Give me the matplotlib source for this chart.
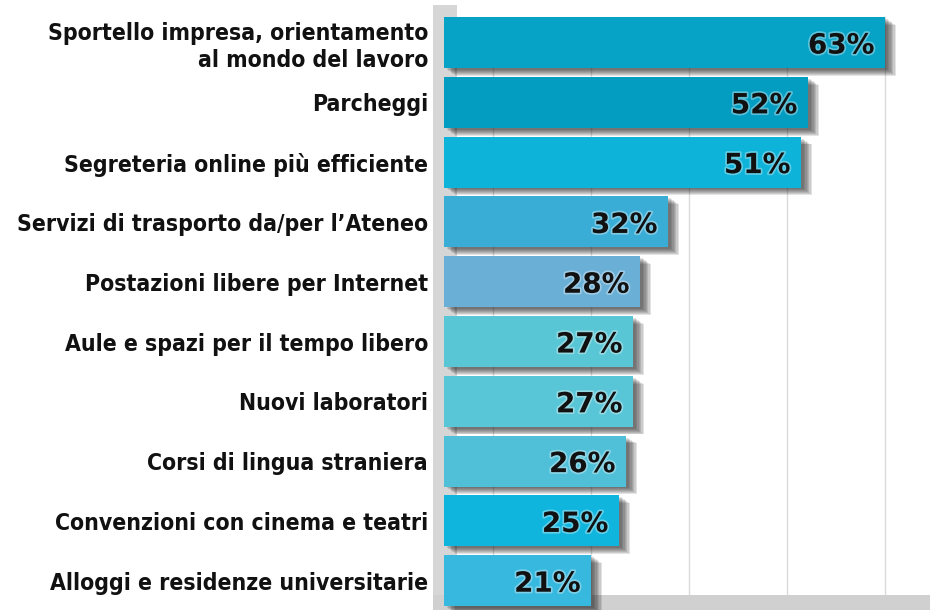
import matplotlib
matplotlib.use('Agg')
import matplotlib.pyplot as plt
import matplotlib.patheffects as pe


labels = ['Sportello impresa, orientamento\nal mondo del lavoro',
          'Parcheggi',
          'Segreteria online più efficiente',
          'Servizi di trasporto da/per l\u2019Ateneo',
          'Postazioni libere per Internet',
          'Aule e spazi per il tempo libero',
          'Nuovi laboratori',
          'Corsi di lingua straniera',
          'Convenzioni con cinema e teatri',
          'Alloggi e residenze universitarie']
values = [63, 52, 51, 32, 28, 27, 27, 26, 25, 21]
colors = ['#07a3c7', '#039dc2', '#0db3d8', '#3aadd6', '#6aafd6',
          '#58c6d4', '#58c6d6', '#4fc0d8', '#10b5dd', '#37b8de']
grid_at = [7, 21, 35, 49, 63]


fig = plt.figure(figsize=(9.3, 6.1), dpi=100)
ax = fig.add_axes([433/930, 0, 1 - 433/930, 1])
y = list(range(len(values)))

# grey frame strips and grid
ax.axvspan(-1.571, 1.857, ymax=1 - 5/610, color='#d6d6d6', lw=0, zorder=0)
ax.axhspan(9.24, 9.6, color='#d0d0d0', lw=0, zorder=0)
ax.vlines(grid_at, -0.43, 9.24, color='#dadada', lw=1, zorder=0.5)

shadow = [pe.SimplePatchShadow(offset=(o, -o*0.7), shadow_rgbFace='#1a1a1a', alpha=0.12)
          for o in (2, 3, 4, 5, 6, 7, 8)] + [pe.Normal()]
bars = ax.barh(y, values, height=0.85, color=colors, zorder=2)
for b in bars:
    b.set_path_effects(shadow)

for i, v in enumerate(values):
    ax.text(v - 1.5, i, f'{v}%', ha='right', va='center_baseline', fontsize=20,
            fontweight='heavy', family='DejaVu Sans', color='#111111', zorder=3,
            path_effects=[pe.withStroke(linewidth=2.5, foreground='white', alpha=0.35)])

ax.set_yticks(y, labels, fontsize=16.5, fontweight='bold',
              family='DejaVu Sans', fontstretch='condensed')
ax.tick_params(axis='y', length=0, pad=3.6, colors='#111111')
ax.tick_params(axis='x', length=0, labelbottom=False)
ax.set_xlim(-1.571, 69.43)
ax.set_ylim(9.49, -0.711)
for s in ax.spines.values():
    s.set_visible(False)

fig.savefig('out.png', dpi=100)
